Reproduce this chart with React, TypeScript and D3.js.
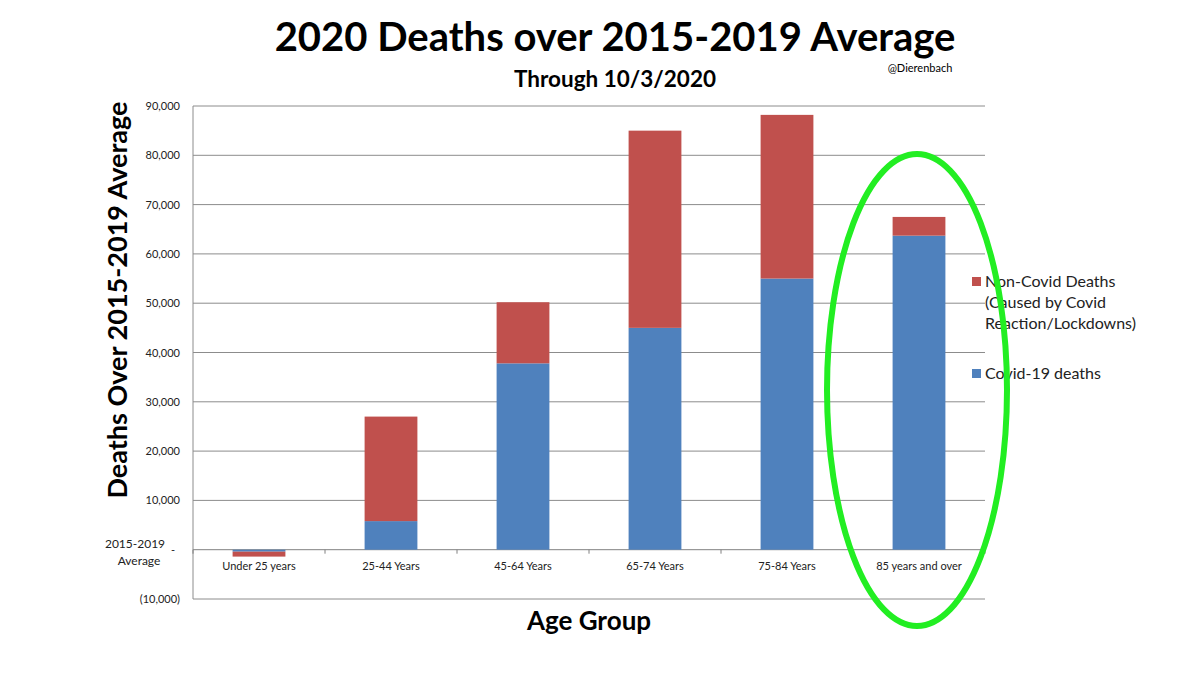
import React from "react";
import * as d3 from "d3";

const categories = ["Under 25 years", "25-44 Years", "45-64 Years", "65-74 Years", "75-84 Years", "85 years and over"];
const covidDeaths = [-400, 5800, 37800, 45000, 55000, 63700];
const nonCovidDeaths = [-1000, 21200, 12400, 40000, 33200, 3800];
const yTicks = [-10000, 0, 10000, 20000, 30000, 40000, 50000, 60000, 70000, 80000, 90000];
const seriesNames = ["Covid-19 deaths", "Non-Covid Deaths"];
const seriesColors = ["#4F81BD", "#C0504D"];

const W = 1200;
const H = 675;
const FONT = "Lato, 'Open Sans', sans-serif";

export default function App() {
  const left = 193, right = 985, top = 106, bottom = 599;
  const x = d3.scaleBand<string>().domain(categories).range([left, right]).paddingInner(0.6).paddingOuter(0.3);
  const y = d3.scaleLinear().domain([-10000, 90000]).range([bottom, top]);

  const rows = categories.map((c, i) => ({ cat: c, covid: covidDeaths[i], non: nonCovidDeaths[i] }));
  const stack = d3.stack<any>().keys(["covid", "non"]).offset(d3.stackOffsetDiverging);
  const series = stack(rows);

  const fmt = (v: number) => {
    if (v === 0) return "-";
    const s = d3.format(",")(Math.abs(v));
    return v < 0 ? `(${s})` : s;
  };

  const step = x.step();
  const boundaries = d3.range(0, categories.length + 1).map((k) => left + k * step);

  return (
    <svg width={W} height={H} style={{ position: "absolute", left: 0, top: 0, background: "#fff" }} fontFamily={FONT}>
      <rect x={0} y={0} width={W} height={H} fill="#fff" />
      {/* Title */}
      <text x={615} y={51} textAnchor="middle" fontSize={40} fontWeight={700} fill="#000">2020 Deaths over 2015-2019 Average</text>
      <text x={615} y={87} textAnchor="middle" fontSize={22.5} fontWeight={700} fill="#000">Through 10/3/2020</text>
      <text x={920} y={72} textAnchor="middle" fontSize={11} fill="#000">@Dierenbach</text>

      {/* gridlines */}
      {yTicks.map((t) => (
        <line key={t} x1={left} x2={right} y1={y(t)} y2={y(t)} stroke={t === 0 ? "#808080" : "#8c8c8c"} strokeWidth={1} />
      ))}
      {/* y axis line */}
      <line x1={left} x2={left} y1={top} y2={bottom} stroke="#8c8c8c" strokeWidth={1} />
      {/* category ticks */}
      {boundaries.map((b, i) => (
        <line key={i} x1={b} x2={b} y1={y(0)} y2={y(0) + 4} stroke="#808080" strokeWidth={1} />
      ))}

      {/* bars */}
      {series.map((s, si) => (
        <g key={si} fill={seriesColors[si]}>
          {s.map((d: any, i: number) => {
            const y0 = y(d[0]);
            const y1 = y(d[1]);
            return (
              <rect key={i} x={x(categories[i])} width={x.bandwidth()} y={Math.min(y0, y1)} height={Math.abs(y0 - y1)} />
            );
          })}
        </g>
      ))}

      {/* y tick labels */}
      {yTicks.map((t) =>
        t === 0 ? (
          <text key={t} x={175} y={y(t) + 4} textAnchor="end" fontSize={11} fill="#222">-</text>
        ) : (
          <text key={t} x={180} y={y(t) + 4} textAnchor="end" fontSize={11} fill="#222">{fmt(t)}</text>
        )
      )}
      <text x={135} y={548} textAnchor="middle" fontSize={12} fill="#222">2015-2019</text>
      <text x={139} y={565} textAnchor="middle" fontSize={12} fill="#222">Average</text>

      {/* category labels */}
      {categories.map((c) => (
        <text key={c} x={(x(c) as number) + x.bandwidth() / 2} y={570} textAnchor="middle" fontSize={11} fill="#222">{c}</text>
      ))}

      {/* axis titles */}
      <text transform={`translate(127,300) rotate(-90)`} textAnchor="middle" fontSize={27} fontWeight={700} fill="#000">Deaths Over 2015-2019 Average</text>
      <text x={589} y={630} textAnchor="middle" fontSize={26} fontWeight={700} fill="#000">Age Group</text>

      {/* legend */}
      <rect x={972} y={277} width={9} height={9} fill={seriesColors[1]} />
      <text x={985} y={287} fontSize={16} fill="#222">
        <tspan x={985} dy={0}>Non-Covid Deaths</tspan>
        <tspan x={985} dy={21}>(Caused by Covid</tspan>
        <tspan x={985} dy={21}>Reaction/Lockdowns)</tspan>
      </text>
      <rect x={972} y={369} width={9} height={9} fill={seriesColors[0]} />
      <text x={985} y={379} fontSize={16} fill="#222">{seriesNames[0]}</text>

      {/* green ellipse */}
      <ellipse cx={917} cy={390} rx={90} ry={236} fill="none" stroke="#22ee22" strokeWidth={6} />
    </svg>
  );
}
